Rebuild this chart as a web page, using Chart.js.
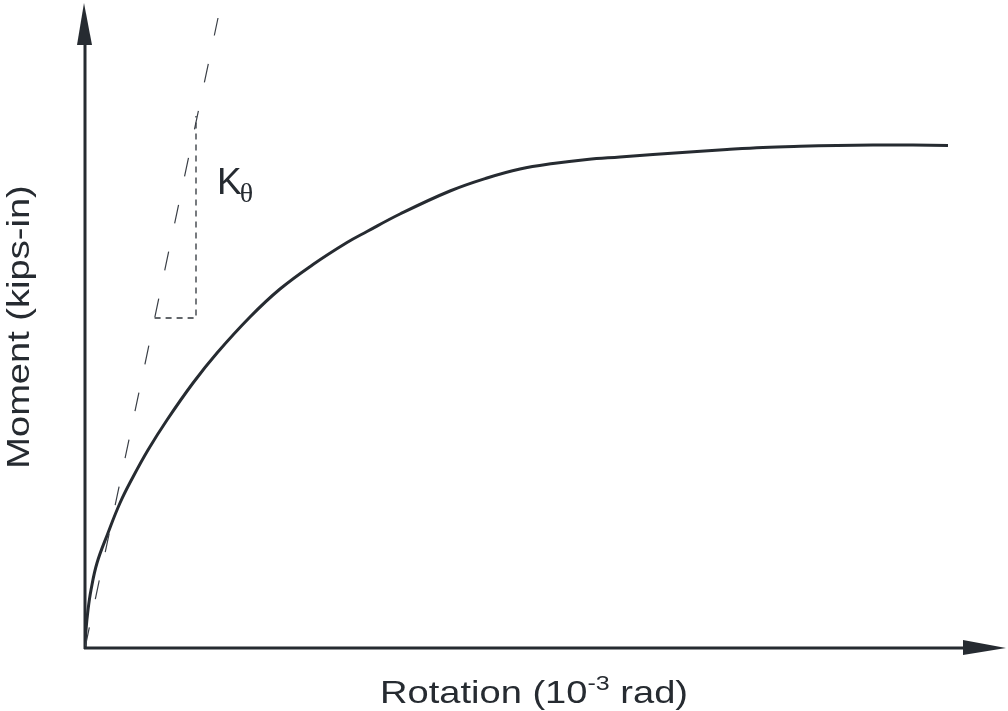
<!DOCTYPE html>
<html>
<head>
<meta charset="utf-8">
<script src="https://cdn.jsdelivr.net/npm/chart.js@4/dist/chart.umd.min.js"></script>
<style>
    html, body { margin: 0; padding: 0; background: #fff; }
    #wrap { width: 1008px; height: 711px; position: relative; }
</style>
</head>
<body>
<div id="wrap"><canvas id="chart-moment-rotation"></canvas></div>
<script>
// moment-rotation curve (rotation in 10^-3 rad, moment in kips-in)
const rotation = [0, 0.05, 0.15, 0.3, 0.6, 1.15, 1.75, 2.4, 3.15, 4.1, 5.4, 6.6, 8.25, 9.75, 11.4, 13.1, 14.1, 15.75, 18.25, 20.1, 21.75, 23.4, 25.1, 26.75, 28.4, 30.6, 32.1, 33.9, 35.75, 37.6, 39.4, 41.4, 43.15];
const moment = [0, 36, 76, 116, 170, 230, 290, 342, 396, 456, 530, 590, 662, 718, 767, 811, 833, 868, 914, 940, 958, 969, 977, 982, 987, 993, 997, 1001, 1003.4, 1005, 1006, 1006, 1005];

// initial stiffness K_theta line and its slope triangle
const stiffRotation = [0, 6.65];
const stiffMoment = [0, 1260];
const triRotation = [3.48, 5.55, 5.55];
const triMoment = [660, 660, 1064];

const xMax = 46;
const yMax = 1290;

const toPoints = (xs, ys) => xs.map((x, i) => ({ x: x, y: ys[i] }));

const ink = '#262b31';

const decorPlugin = {
    id: 'decor',
    beforeDatasetsDraw(chart) {
        const ctx = chart.ctx;
        const xs = chart.scales.x, ys = chart.scales.y;
        const x0 = xs.getPixelForValue(0), y0 = ys.getPixelForValue(0);
        const xEnd = xs.getPixelForValue(xMax), yEnd = ys.getPixelForValue(yMax);
        ctx.save();
        ctx.strokeStyle = ink;
        ctx.fillStyle = ink;
        ctx.lineWidth = 3;
        // y axis
        ctx.beginPath();
        ctx.moveTo(x0, y0 + 1);
        ctx.lineTo(x0, yEnd + 40);
        ctx.stroke();
        ctx.beginPath();
        ctx.moveTo(x0 - 1, yEnd);
        ctx.lineTo(x0 - 8, yEnd + 42);
        ctx.lineTo(x0 + 7, yEnd + 42);
        ctx.closePath();
        ctx.fill();
        // x axis
        ctx.beginPath();
        ctx.moveTo(x0 - 1, y0);
        ctx.lineTo(xEnd - 40, y0);
        ctx.stroke();
        ctx.beginPath();
        ctx.moveTo(xEnd + 1, y0);
        ctx.lineTo(xEnd - 42, y0 - 8);
        ctx.lineTo(xEnd - 42, y0 + 7);
        ctx.closePath();
        ctx.fill();
        ctx.restore();
    },
    afterDraw(chart) {
        const ctx = chart.ctx;
        const xs = chart.scales.x, ys = chart.scales.y;
        ctx.save();
        ctx.fillStyle = ink;
        ctx.textBaseline = 'alphabetic';

        // K_theta label
        const kx = xs.getPixelForValue(6.6), ky = ys.getPixelForValue(908);
        ctx.font = '37px "Liberation Sans", Arial, sans-serif';
        ctx.textAlign = 'left';
        ctx.fillText('K', kx, ky);
        const kw = ctx.measureText('K').width;
        ctx.font = '28px "Liberation Serif", "Times New Roman", serif';
        ctx.fillText('θ', kx + kw - 2, ky + 8);

        // x title with superscript
        const main = '32px "Liberation Sans", Arial, sans-serif';
        const sup = '21px "Liberation Sans", Arial, sans-serif';
        const a = 'Rotation (10', s = '-3', b = ' rad)';
        ctx.font = main; const wa = ctx.measureText(a).width, wb = ctx.measureText(b).width;
        ctx.font = sup; const ws = ctx.measureText(s).width;
        const stretch = 1.19;
        const total = (wa + ws + wb) * stretch;
        const cx = 534, by = 703;
        ctx.save();
        ctx.translate(cx - total / 2, by);
        ctx.scale(stretch, 1);
        ctx.font = main; ctx.fillText(a, 0, 0);
        ctx.font = sup; ctx.fillText(s, wa, -13);
        ctx.font = main; ctx.fillText(b, wa + ws, 0);
        ctx.restore();

        // y title
        ctx.save();
        ctx.translate(29, 327);
        ctx.rotate(-Math.PI / 2);
        ctx.scale(stretch, 1);
        ctx.font = main;
        ctx.textAlign = 'center';
        ctx.fillText('Moment (kips-in)', 0, 0);
        ctx.restore();

        ctx.restore();
    }
};

const ctx = document.getElementById('chart-moment-rotation').getContext('2d');
new Chart(ctx, {
    type: 'line',
    data: {
        datasets: [
            {
                data: toPoints(stiffRotation, stiffMoment),
                borderColor: '#3a3f46',
                borderWidth: 1.2,
                borderDash: [19, 29],
                borderDashOffset: -2,
                pointRadius: 0
            },
            {
                data: toPoints(triRotation, triMoment),
                borderColor: '#2f343a',
                borderWidth: 1.3,
                borderDash: [6, 5],
                pointRadius: 0
            },
            {
                data: toPoints(rotation, moment),
                borderColor: ink,
                borderWidth: 3,
                tension: 0.4,
                pointRadius: 0
            },
            {
                data: toPoints(rotation, moment),
                borderColor: '#b4b9be',
                borderWidth: 1,
                tension: 0.4,
                pointRadius: 0
            }
        ]
    },
    options: {
        responsive: true,
        maintainAspectRatio: false,
        animation: false,
        events: [],
        layout: { padding: { left: 85, right: 3, top: 3, bottom: 63 } },
        plugins: {
            legend: { display: false },
            tooltip: { enabled: false }
        },
        scales: {
            x: { type: 'linear', min: 0, max: xMax, display: false },
            y: { type: 'linear', min: 0, max: yMax, display: false }
        }
    },
    plugins: [decorPlugin]
});
</script>
</body>
</html>
